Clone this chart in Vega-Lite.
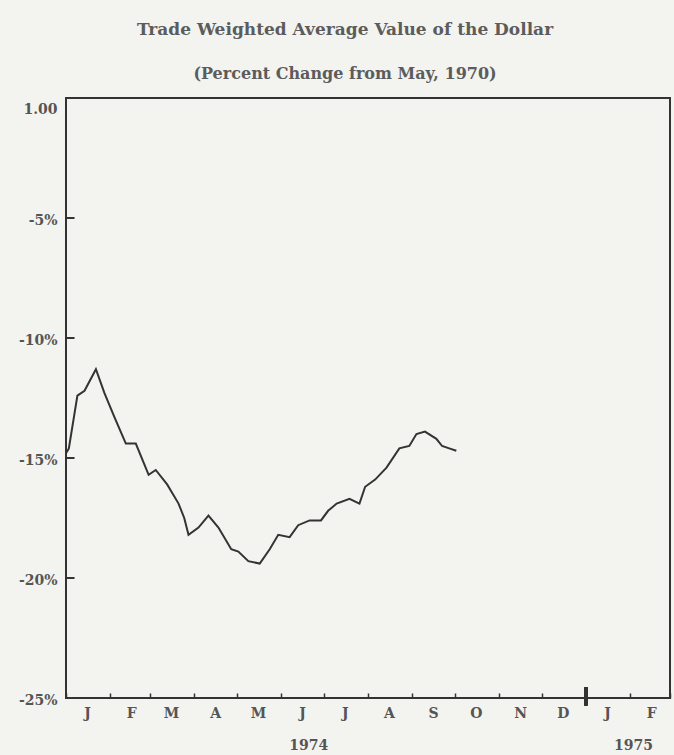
{
  "$schema": "https://vega.github.io/schema/vega-lite/v6.json",
  "autosize": "none",
  "width": 604,
  "height": 600,
  "padding": {"left": 66, "top": 98, "right": 4, "bottom": 57},
  "background": "#f3f3f0",
  "view": {"stroke": "#333333", "strokeWidth": 2},
  "title": {
    "text": "Trade Weighted Average Value of the Dollar",
    "subtitle": "(Percent Change from May, 1970)",
    "anchor": "middle",
    "frame": "group",
    "dx": -23,
    "offset": 15,
    "subtitlePadding": 27,
    "font": "DejaVu Serif",
    "fontSize": 17,
    "fontWeight": "bold",
    "color": "#5c5c5c",
    "subtitleFont": "DejaVu Serif",
    "subtitleFontSize": 16,
    "subtitleFontWeight": "bold",
    "subtitleColor": "#5c5c5c"
  },
  "config": {
    "axis": {
      "labelFont": "DejaVu Serif",
      "labelFontSize": 14,
      "labelColor": "#555555",
      "labelFontWeight": "bold",
      "grid": false,
      "tickColor": "#333333",
      "title": null
    }
  },
  "datasets": {
    "series": [
      {"date": "1974-01-01", "pct": -14.8},
      {"date": "1974-01-03", "pct": -14.6},
      {"date": "1974-01-09", "pct": -12.4},
      {"date": "1974-01-14", "pct": -12.2},
      {"date": "1974-01-22", "pct": -11.3},
      {"date": "1974-01-28", "pct": -12.3},
      {"date": "1974-02-04", "pct": -13.3},
      {"date": "1974-02-12", "pct": -14.4},
      {"date": "1974-02-19", "pct": -14.4},
      {"date": "1974-02-28", "pct": -15.7},
      {"date": "1974-03-05", "pct": -15.5},
      {"date": "1974-03-13", "pct": -16.1},
      {"date": "1974-03-21", "pct": -16.9},
      {"date": "1974-03-25", "pct": -17.5},
      {"date": "1974-03-28", "pct": -18.2},
      {"date": "1974-04-04", "pct": -17.9},
      {"date": "1974-04-11", "pct": -17.4},
      {"date": "1974-04-18", "pct": -17.9},
      {"date": "1974-04-27", "pct": -18.8},
      {"date": "1974-05-02", "pct": -18.9},
      {"date": "1974-05-09", "pct": -19.3},
      {"date": "1974-05-17", "pct": -19.4},
      {"date": "1974-05-24", "pct": -18.8},
      {"date": "1974-05-30", "pct": -18.2},
      {"date": "1974-06-07", "pct": -18.3},
      {"date": "1974-06-13", "pct": -17.8},
      {"date": "1974-06-21", "pct": -17.6},
      {"date": "1974-06-29", "pct": -17.6},
      {"date": "1974-07-04", "pct": -17.2},
      {"date": "1974-07-10", "pct": -16.9},
      {"date": "1974-07-19", "pct": -16.7},
      {"date": "1974-07-26", "pct": -16.9},
      {"date": "1974-07-30", "pct": -16.2},
      {"date": "1974-08-06", "pct": -15.9},
      {"date": "1974-08-14", "pct": -15.4},
      {"date": "1974-08-23", "pct": -14.6},
      {"date": "1974-08-30", "pct": -14.5},
      {"date": "1974-09-04", "pct": -14.0},
      {"date": "1974-09-10", "pct": -13.9},
      {"date": "1974-09-18", "pct": -14.2},
      {"date": "1974-09-22", "pct": -14.5},
      {"date": "1974-09-27", "pct": -14.6},
      {"date": "1974-10-02", "pct": -14.7}
    ],
    "yticks": [
      {"v": -5},
      {"v": -10},
      {"v": -15},
      {"v": -20}
    ]
  },
  "data": {"name": "series"},
  "resolve": {"axis": {"x": "independent", "y": "independent"}},
  "layer": [
    {
      "mark": {"type": "line", "color": "#333333", "strokeWidth": 2, "strokeJoin": "miter"},
      "encoding": {
        "x": {
          "field": "date",
          "type": "temporal",
          "scale": {
            "type": "utc",
            "domain": [
              {"year": 1974, "month": 1, "date": 1, "utc": true},
              {"year": 1975, "month": 3, "date": 1, "utc": true}
            ]
          },
          "axis": {
            "orient": "bottom",
            "tickCount": {"interval": "month", "step": 1},
            "labelExpr": "(utcyear(datum.value) == 1975 && utcmonth(datum.value) == 2) ? '' : substring(utcFormat(datum.value, '%b'), 0, 1)",
            "labelOffset": 21,
            "labelFlush": false,
            "labelOverlap": false,
            "labelBound": false,
            "labelPadding": 13,
            "tickSize": -5,
            "tickWidth": 1.5,
            "domain": false
          }
        },
        "y": {
          "field": "pct",
          "type": "quantitative",
          "scale": {"domain": [-25, 0], "nice": false, "zero": false},
          "axis": {
            "orient": "left",
            "values": [0, -5, -10, -15, -20, -25],
            "labelExpr": "datum.value == 0 ? '1.00' : datum.value + '%'",
            "labelOffset": {"condition": {"test": "datum.value == 0", "value": 11}, "value": 2},
            "ticks": false,
            "labelPadding": 9,
            "domain": false
          }
        }
      }
    },
    {
      "data": {"name": "yticks"},
      "mark": {"type": "rule", "color": "#333333", "strokeWidth": 2},
      "encoding": {
        "x": {"datum": {"year": 1974, "month": 1, "date": 1, "utc": true}, "type": "temporal", "axis": null},
        "x2": {"datum": {"year": 1974, "month": 1, "date": 7, "utc": true}},
        "y": {"field": "v", "type": "quantitative", "axis": null}
      }
    },
    {
      "mark": {"type": "rule", "color": "#333333", "strokeWidth": 2.5},
      "encoding": {
        "x": {
          "datum": {"year": 1975, "month": 1, "date": 1, "utc": true},
          "type": "temporal",
          "axis": {
            "orient": "bottom",
            "values": [
              {"year": 1974, "month": 6, "date": 20, "utc": true},
              {"year": 1975, "month": 2, "date": 3, "utc": true}
            ],
            "labelExpr": "utcFormat(datum.value, '%Y')",
            "ticks": false,
            "domain": false,
            "labelPadding": 40,
            "labelFlush": false,
            "labelOverlap": false,
            "labelBound": false
          }
        },
        "y": {"datum": -24.55, "type": "quantitative", "axis": null},
        "y2": {"datum": -25.3}
      }
    }
  ]
}
